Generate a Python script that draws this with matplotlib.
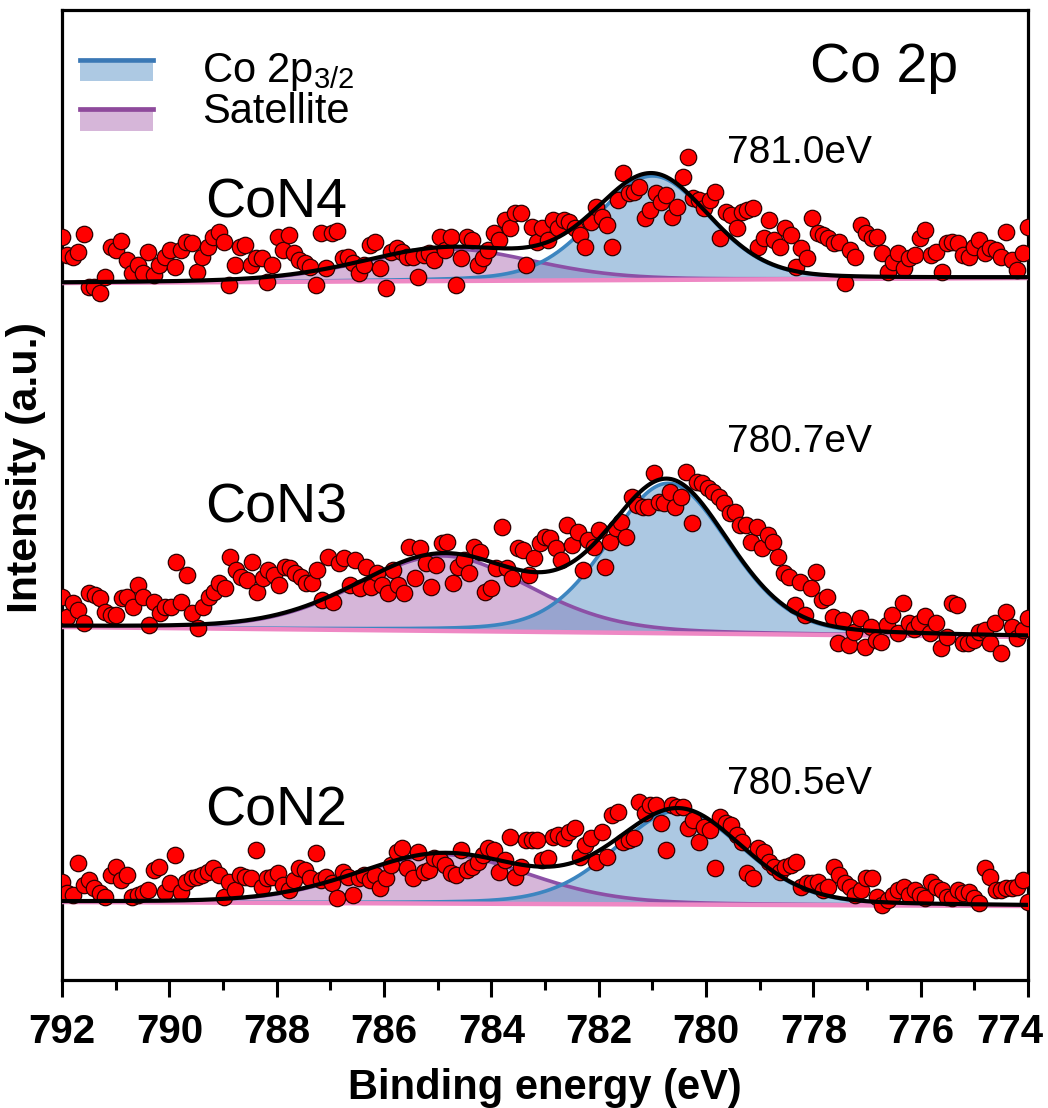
import numpy as np
import matplotlib.pyplot as plt
import matplotlib.transforms as mtransforms
from matplotlib.patches import Rectangle

plt.rcParams['font.family'] = ['Liberation Sans', 'DejaVu Sans']
plt.rcParams['mathtext.default'] = 'regular'

# Echantillons (de haut en bas)
echantillons = ["CoN4", "CoN3", "CoN2"]
decalages = [697, 353, 78]
etiquettes_pic = ["781.0eV", "780.7eV", "780.5eV"]

# Points experimentaux (intensite relative, de 792 eV a 774 eV)
y_con4 = [46, 28, 26, 31, 49, -4, -4, -10, 6, 36,
          33, 42, 23, 10, 18, 10, 31, 8, 18, 26,
          33, 16, 33, 41, 40, 11, 26, 36, 46, 51,
          41, -2, 18, 36, 38, 18, 25, 25, 1, 18,
          46, 33, 48, 30, 23, 20, 16, -2, 50, 15,
          50, 52, 25, 26, 20, 10, 18, 38, 41, 15,
          -5, 31, 35, 31, 26, 26, 6, 28, 30, 23,
          46, 33, 46, -2, 25, 46, 43, 18, 25, 33,
          50, 43, 63, 55, 70, 70, 18, 56, 41, 55,
          43, 63,
          55, 63, 61, 55, 48, 36, 61, 76, 66, 58,
          36, 83, 110, 90, 91, 96, 65, 73, 90, 81,
          88, 66, 76, 106, 126, 85, 83, 75, 83, 91,
          45, 71, 68, 55, 71, 73, 75, 36, 45, 63,
          43, 36, 55, 48, 16, 35, 25, 65, 50, 48,
          45, 40, 41, 0, 33, 26, 58, 50, 45, 46,
          30, 11, 21, 30, 15, 25, 28, 45, 53, 28,
          31, 11, 40, 41, 40, 28, 26, 36, 43, 30,
          35, 33, 26, 51, 23, 13, 30, 56]

y_con3 = [30, 10, 24, 17, 4, 34, 32, 29, 15, 12,
          12, 29, 30, 20, 42, 30, 2, 25, 14, 20,
          20, 65, 25, 52, 14, -1, 20, 30, 35, 44,
          39, 70, 57, 50, 47, 65, 35, 49, 57, 52,
          42, 60, 59, 54, 50, 44, 44, 57, 27, 70,
          25, 64, 69, 42, 67, 39, 60, 40, 54, 42,
          34, 57, 42, 34, 80, 49, 79, 64, 40, 62,
          84, 85, 44, 60, 67, 54, 80, 75, 35, 39,
          59, 100, 59, 49, 79, 77, 52, 69, 84, 90,
          89, 79, 67, 102,
          82, 95, 57, 87, 80, 97, 60, 85, 99, 105,
          90, 130, 122, 120, 120, 154, 125, 124, 135, 120,
          130, 155, 104, 145, 144, 139, 135, 130, 124, 114,
          115, 102, 102, 85, 100, 79, 92, 85, 70, 54,
          50, 22, 45, 12, 39, 55, 27, 30, 10, -16,
          7, -18, -5, 9, -20, 0, -13, -15, 2, 12,
          -6, 24, 4, -2, 4, 11, -6, 4, -21, -10,
          24, 22, -16, -16, -13, -5, -3, -16, 4, -26,
          15, 0, -11, -3, 9]

y_con2 = [20, 9, 7, 39, 17, 22, 14, 9, 5, 27,
          35, 22, 27, 5, 7, 9, 12, 32, 35, 10,
          19, 47, 10, 20, 24, 25, 27, 30, 34, 27,
          5, 20, 12, 27, 25, 24, 52, 15, 24, 25,
          29, 17, 12, 22, 34, 32, 24, 49, 22, 25,
          19, 4, 30, 25, 7, 24, 27, 22, 27, 14,
          24, 37, 50, 54, 34, 24, 50, 30, 32, 44,
          42, 37, 29, 27, 52, 32, 35, 40, 47, 54,
          52, 30, 42, 65, 25, 35, 62, 62, 62, 42,
          44, 65,
          67, 64, 70, 74, 45, 57, 64, 40, 70, 45,
          87, 90, 60, 62, 64, 100, 89, 97, 97, 79,
          52, 97, 95, 95, 74, 82, 60, 75, 72, 34,
          85, 79, 77, 67, 60, 29, 24, 54, 50, 40,
          35, 30, 35, 37, 40, 15, 19, 19, 20, 12,
          15, 35, 27, 19, 15, 7, 12, 24, 24, 5,
          -3, 2, 7, 12, 15, 7, 12, 7, 4, 20,
          15, 12, 5, 4, 12, 9, 10, 4, -1, 34,
          25, 12, 12, 14, 14, 15, 22, 0]

donnees = [y_con4, y_con3, y_con2]

# Parametres de l'ajustement (centre eV, hauteur, demi-largeur)
pic_co = [(781.0, 104, 1.26), (780.7, 150, 1.33), (780.5, 94, 1.40)]
pic_sat = [(784.8, 32, 1.9), (784.9, 75, 1.9), (784.9, 49, 1.9)]
# fond lineaire : valeur a 792 eV et a 774 eV
fond = [(0, 5), (0, -10), (0, -4)]


def pseudo_voigt(x, centre, hauteur, hw, m=0.2):
    u = (x - centre) / hw
    return hauteur * ((1 - m) * np.exp(-np.log(2) * u ** 2) + m / (1 + u ** 2))


fig = plt.figure(figsize=(10.48, 11.08), dpi=100)
ax = fig.add_axes([0.05916, 0.11552, 0.92176, 0.87545])

xf = np.linspace(792, 774, 800)

for i in range(3):
    off = decalages[i]
    y = np.array(donnees[i]) + off
    x = np.linspace(792, 774, len(y))

    b0, b1 = fond[i]
    bg = off + b0 + (b1 - b0) * (792 - xf) / 18.0
    sat = pseudo_voigt(xf, *pic_sat[i])
    co = pseudo_voigt(xf, *pic_co[i])

    ax.fill_between(xf, bg, bg + sat, color='#9949a0', alpha=0.4, lw=0, zorder=1)
    ax.fill_between(xf, bg, bg + co, color='#5b93c7', alpha=0.5, lw=0, zorder=2)
    ax.plot(xf, bg + sat, color='#8c50a6', lw=2.6, zorder=3)
    ax.plot(xf, bg + co, color='#3c85c0', lw=2.6, zorder=3)
    ax.plot(xf, bg, color='#ee88c4', lw=3.2, zorder=3)

    ax.scatter(x, y, s=140, c='#ff0000', edgecolors='#300000', linewidths=0.9, zorder=4)
    ax.plot(xf, bg + sat + co, color='black', lw=3.0, zorder=5)

# Etiquettes
pos_nom = [763, 458, 155]
pos_pic = [817, 528, 186]
for i in range(3):
    ax.text(789.34, pos_nom[i], echantillons[i], fontsize=40, ha='left', va='baseline')
    ax.text(779.6, pos_pic[i], etiquettes_pic[i], fontsize=28, ha='left', va='baseline')
ax.text(778.06, 898, "Co 2p", fontsize=40, ha='left', va='baseline')

# Legende dessinee a la main
tr = ax.transAxes
ax.add_patch(Rectangle((0.0186, 0.9263), 0.0756, 0.0195, transform=tr,
                       color='#adc9e3', lw=0, zorder=6))
ax.plot([0.0186, 0.0942], [0.9483, 0.9483], transform=tr, color='#3a78b5', lw=3.4, zorder=7)
ax.add_patch(Rectangle((0.0186, 0.8753), 0.0756, 0.0205, transform=tr,
                       color='#d6b6d9', lw=0, zorder=6))
ax.plot([0.0186, 0.0942], [0.8983, 0.8983], transform=tr, color='#8e4a9c', lw=3.4, zorder=7)
ax.text(0.145, 0.926, "Co 2p$_{3/2}$", transform=tr, fontsize=30, ha='left', va='baseline')
ax.text(0.145, 0.8835, "Satellite", transform=tr, fontsize=30, ha='left', va='baseline')

# Axes
ax.set_xlim(792, 774)
ax.set_ylim(0, 970)
ax.set_xticks(np.arange(792, 773, -2))
ax.set_xticks(np.arange(791, 774, -2), minor=True)
ax.set_yticks([])
ax.tick_params(axis='x', which='major', length=12, width=2.2, pad=12, labelsize=29)
ax.tick_params(axis='x', which='minor', length=7, width=2.2)
for sp in ax.spines.values():
    sp.set_linewidth(2.3)

ax.set_xlabel("Binding energy (eV)", fontsize=30, fontweight='bold', labelpad=12)
ax.set_ylabel("Intensity (a.u.)", fontsize=31, fontweight='bold')
ax.yaxis.set_label_coords(-0.0166, 0.528)

fig.canvas.draw()
labels = ax.get_xticklabels()
for lab in labels:
    lab.set_fontweight('bold')
# le dernier label (774) est decale vers la gauche pour rester dans l'image
dernier = labels[-1]
dernier.set_transform(dernier.get_transform()
                      + mtransforms.ScaledTranslation(-0.18, 0, fig.dpi_scale_trans))

plt.savefig("out.png", dpi=100)
